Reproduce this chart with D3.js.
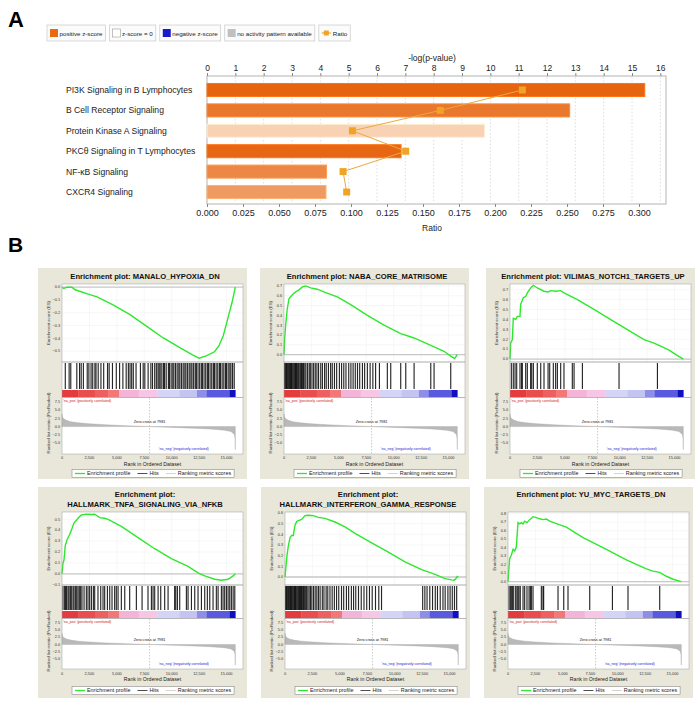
<!DOCTYPE html>
<html><head><meta charset="utf-8">
<script src="https://cdn.jsdelivr.net/npm/d3@7"></script>
<style>body{margin:0;background:#fff}svg{display:block}</style>
</head><body>
<svg id="c" width="700" height="708"></svg>
<script>
// ---------------- Panel A data ----------------
const pathways = ["PI3K Signaling in B Lymphocytes","B Cell Receptor Signaling","Protein Kinase A Signaling","PKCθ Signaling in T Lymphocytes","NF-κB Signaling","CXCR4 Signaling"];
const negLogP = [15.45, 12.8, 9.8, 6.85, 4.22, 4.2];
const ratio = [0.219, 0.162, 0.101, 0.138, 0.0945, 0.097];
const zScore = [3.4, 2.9, 0.6, 3.35, 2.5, 2.0];
const pTicks = [0,1,2,3,4,5,6,7,8,9,10,11,12,13,14,15,16];
const ratioTicks = [0,0.025,0.05,0.075,0.1,0.125,0.15,0.175,0.2,0.225,0.25,0.275,0.3];
const legendLabels = ["positive z-score","z-score = 0","negative z-score","no activity pattern available","Ratio"];

// ---------------- Panel B data ----------------
const gseaTitles = [
  ["Enrichment plot: MANALO_HYPOXIA_DN"],
  ["Enrichment plot: NABA_CORE_MATRISOME"],
  ["Enrichment plot: VILIMAS_NOTCH1_TARGETS_UP"],
  ["Enrichment plot:","HALLMARK_TNFA_SIGNALING_VIA_NFKB"],
  ["Enrichment plot:","HALLMARK_INTERFERON_GAMMA_RESPONSE"],
  ["Enrichment plot: YU_MYC_TARGETS_DN"]
];
const esCurve1 = [[0,0],[150,-0.01],[450,0.0],[900,0.0],[1200,-0.02],[2600,-0.06],[3200,-0.075],[4700,-0.14],[6200,-0.215],[7700,-0.305],[9200,-0.395],[10700,-0.47],[11900,-0.53],[12500,-0.555],[13200,-0.535],[13900,-0.505],[14300,-0.46],[14700,-0.38],[15100,-0.25],[15500,-0.12],[15800,0.0]];
const esCurve2 = [[0,0],[60,0.16],[150,0.3],[300,0.47],[456,0.57],[608,0.59],[851,0.62],[1064,0.64],[1368,0.66],[1672,0.69],[1976,0.70],[2432,0.68],[3040,0.667],[3800,0.633],[4864,0.588],[6080,0.51],[7600,0.40],[9120,0.30],[10640,0.214],[11856,0.17],[13376,0.095],[14592,0.034],[15200,-0.015],[15550,-0.04],[15800,0.0]];
const esCurve3 = [[0,0],[60,0.16],[210,0.195],[300,0.41],[520,0.40],[670,0.43],[910,0.43],[970,0.55],[1220,0.62],[1430,0.63],[1580,0.667],[1880,0.717],[2130,0.744],[2490,0.717],[3100,0.684],[3470,0.677],[3710,0.69],[4160,0.684],[4620,0.69],[4920,0.667],[6140,0.60],[7660,0.50],[9180,0.397],[10700,0.296],[12220,0.195],[13130,0.16],[13740,0.13],[14500,0.09],[15200,0.04],[15800,0.0]];
const esCurve4 = [[0,0],[90,0.097],[180,0.126],[300,0.26],[490,0.32],[700,0.36],[850,0.40],[1090,0.465],[1460,0.51],[1760,0.54],[2220,0.547],[2680,0.544],[2980,0.547],[3440,0.515],[3890,0.51],[4200,0.50],[5410,0.435],[6930,0.332],[8450,0.23],[9970,0.14],[11490,0.068],[12400,0.009],[13010,-0.02],[13920,-0.05],[14530,-0.059],[15140,-0.05],[15600,-0.02],[15800,0.0]];
const esCurve5 = [[0,0],[90,0.1],[180,0.2],[300,0.29],[460,0.37],[610,0.39],[760,0.39],[910,0.487],[1060,0.52],[1220,0.53],[1520,0.54],[1820,0.576],[2130,0.58],[2580,0.576],[3040,0.56],[3650,0.55],[4560,0.516],[5470,0.47],[6380,0.41],[7900,0.32],[9420,0.233],[10940,0.143],[12460,0.069],[13680,0.024],[14590,-0.015],[15200,-0.027],[15400,-0.03],[15550,-0.02],[15700,0.005],[15800,0.0]];
const esCurve6 = [[0,0],[60,0.116],[150,0.27],[300,0.31],[460,0.38],[610,0.36],[760,0.41],[910,0.695],[1060,0.68],[1220,0.695],[1370,0.68],[1520,0.712],[1730,0.695],[1980,0.73],[2280,0.765],[2580,0.754],[2890,0.74],[3190,0.73],[3500,0.737],[3800,0.712],[4410,0.684],[5320,0.642],[6840,0.519],[8970,0.379],[10790,0.256],[12620,0.151],[13220,0.123],[13830,0.109],[14440,0.063],[15050,0.028],[15800,0.0]];
const hits1 = [300,650,800,1350,1600,1750,1950,2300,2450,2650,2800,3000,3100,3300,3550,3800,4150,4300,4600,4950,5250,5550,5850,6050,6200,6350,6500,6750,7150,7400,7550,7850,8100,8250,8450,8600,8750,8850,8950,9100,9250,9350,9500,9700,9800,9950,10100,10200,10350,10500,10650,10750,10900,11050,11200,11300,11450,11600,11750,11850,12000,12150,12250,12400,12550,12700,12800,12950,13100,13250,13350,13500,13650,13800,13900,14050,14200,14350,14450,14600,14750,14900,15000,15150,15300,15400,15550,15700];
const hits2 = [60,150,230,300,380,450,520,600,680,740,820,900,980,1050,1130,1200,1280,1350,1450,1530,1600,1700,1780,1900,2000,2150,2300,2400,2550,2700,2850,3000,3150,3350,3500,3700,3850,4050,4250,4400,4600,4800,5050,5250,5450,5650,5900,6100,6300,6500,6700,6900,7150,7350,7600,7850,8100,8350,8700,9420,9730,10640,11100,11860,13380,13680,15200];
const hits3 = [120,300,460,610,910,1060,1120,1430,1580,1880,1980,2130,2490,2800,3100,3470,3620,3950,4160,4320,4620,4920,5680,5840,6600,9940,13440];
const hits4 = [90,240,330,420,550,640,760,850,1000,1090,1220,1340,1460,1580,1700,1820,2010,2220,2370,2520,2680,2860,2980,3280,3530,3740,3890,4140,4350,4560,4800,4950,5110,5410,5720,6170,6780,7300,7840,8150,8300,8450,8760,9000,9360,9670,10270,10370,10520,10730,11340,11490,11800,12100,12400,12710,13010,13250,13470,13770,14070,14230,14530,14680,14830,14990,15140,15290,15440,15600,15750];
const hits5 = [50,130,210,290,350,430,500,580,650,720,800,870,950,1020,1100,1180,1250,1330,1420,1500,1580,1680,1760,1850,1950,2080,2200,2330,2450,2600,2750,2900,3050,3200,3400,3550,3750,3900,4100,4300,4500,4700,4900,5150,5350,5600,5800,6050,6250,6450,6700,6950,7200,7450,7700,7950,8250,8550,8800,12550,12750,12950,13200,13450,13700,13900,14150,14400,14600,14850,15050,15250,15450,15650];
const hits6 = [90,210,300,400,520,700,820,910,1000,1120,1370,1520,1730,1920,2040,2130,2280,3040,3190,3250,4560,5080,5470,7450,9520,10940,13830];
const esDomains = [[-0.585,0.025],[-0.075,0.72],[-0.03,0.757],[-0.103,0.567],[-0.075,0.61],[-0.04,0.82]];
const esTicks = [[0,-0.1,-0.2,-0.3,-0.4,-0.5],[0,0.1,0.2,0.3,0.4,0.5,0.6,0.7],[0,0.1,0.2,0.3,0.4,0.5,0.6,0.7],[-0.1,0,0.1,0.2,0.3,0.4,0.5],[0,0.1,0.2,0.3,0.4,0.5,0.6],[0,0.1,0.2,0.3,0.4,0.5,0.6,0.7,0.8]];
const rankTicks = [0,2500,5000,7500,10000,12500,15000];
const metricTicks = [7.5,5.0,2.5,0.0,-2.5,-5.0];
const metricCurve = [[0,3.8],[30,3.0],[150,2.4],[400,1.9],[800,1.5],[1500,1.15],[2500,0.85],[4000,0.55],[6000,0.25],[7981,0],[10000,-0.25],[12000,-0.5],[13500,-0.75],[14800,-1.1],[15400,-1.5],[15700,-2.3],[15780,-3.5],[15800,-7.0]];
const colorBands = [[0,1500,"#e43c3c"],[1500,3000,"#ea4d4d"],[3000,4200,"#ee6060"],[4200,5200,"#f27777"],[5200,7000,"#f4b4d8"],[7000,8700,"#f6c6e4"],[8700,10700,"#d4d4f6"],[10700,12300,"#c4c4f2"],[12300,13200,"#8e8ee8"],[13200,15300,"#5a5ade"],[15300,15800,"#1010c0"]];
const zeroCross = 7981;
const legendB = ["Enrichment profile","Hits","Ranking metric scores"];

// ---------------- drawing ----------------
const FONT = "'Liberation Sans', Arial, sans-serif";
const svg = d3.select("#c").attr("font-family", FONT);

// ===== Panel A =====
svg.append("text").attr("x",8).attr("y",27).attr("font-size",22).attr("font-weight","bold").text("A");

(function(){
  let lx = 47;
  const sw = ["#e8690f","#ffffff","#1a1acc","#c0c0c0",null];
  legendLabels.forEach((lab,i)=>{
    const g = svg.append("g");
    const box = g.append("rect").attr("y",25).attr("height",16).attr("fill","#fbfbfb").attr("stroke","#cfcfcf").attr("stroke-width",0.8);
    let tx;
    if (sw[i]) {
      g.append("rect").attr("x",lx+3).attr("y",29).attr("width",8).attr("height",8).attr("fill",sw[i]).attr("stroke", i===1?"#999":"none").attr("stroke-width",0.6);
      tx = lx+12.5;
    } else {
      g.append("line").attr("x1",lx+3).attr("x2",lx+12).attr("y1",33).attr("y2",33).attr("stroke","#f0a424").attr("stroke-width",1.2);
      g.append("rect").attr("x",lx+5).attr("y",30.5).attr("width",5).attr("height",5).attr("fill","#f0a424");
      tx = lx+14;
    }
    const t = g.append("text").attr("x",tx).attr("y",35.8).attr("font-size",6.2).attr("fill","#222").text(lab);
    const w = t.node().getComputedTextLength();
    const bw = tx - lx + w + 3;
    box.attr("x",lx).attr("width",bw);
    lx += bw + 4;
  });
})();

const xP = d3.scaleLinear().domain([0,16.2]).range([207,666]);
const xR = d3.scaleLinear().domain([0,0.31875]).range([207,666]);
const yB = d3.scaleBand().domain(pathways).range([79.8,202.2]).paddingInner(0.36).paddingOuter(0.18);
const zColor = d3.scaleLinear().domain([0,3.5]).range(["#fde8d8","#e5600a"]);

svg.append("rect").attr("x",207).attr("y",76).attr("width",459).attr("height",128).attr("fill","#fff").attr("stroke","#b4b4b4").attr("stroke-width",1);
svg.append("g").selectAll("line").data(pTicks.slice(1)).join("line")
  .attr("x1",d=>xP(d)).attr("x2",d=>xP(d)).attr("y1",77).attr("y2",203)
  .attr("stroke","#d4d4d4").attr("stroke-dasharray","1.5,2").attr("stroke-width",0.8);

const axT = svg.append("g").attr("transform","translate(0,76)").call(d3.axisTop(xP).tickValues(pTicks).tickSize(3).tickPadding(2).tickFormat(d3.format("d")));
axT.select(".domain").remove();
axT.selectAll("line").attr("stroke","#888");
axT.selectAll("text").attr("font-size",8.5).attr("font-family",FONT).attr("fill","#222");
svg.append("text").attr("x",432).attr("y",61).attr("text-anchor","middle").attr("font-size",8.5).attr("fill","#222").text("-log(p-value)");

const axB = svg.append("g").attr("transform","translate(0,204)").call(d3.axisBottom(xR).tickValues(ratioTicks).tickSize(3).tickPadding(3).tickFormat(d3.format(".3f")));
axB.select(".domain").remove();
axB.selectAll("line").attr("stroke","#888");
axB.selectAll("text").attr("font-size",9).attr("font-family",FONT).attr("fill","#222");
svg.append("text").attr("x",432).attr("y",231).attr("text-anchor","middle").attr("font-size",8.5).attr("fill","#222").text("Ratio");

svg.append("g").selectAll("rect").data(pathways).join("rect")
  .attr("x",xP(0)).attr("y",d=>yB(d)).attr("height",yB.bandwidth())
  .attr("width",(d,i)=>xP(negLogP[i])-xP(0))
  .attr("fill",(d,i)=>zColor(zScore[i]))
  .attr("stroke",(d,i)=>d3.color(zColor(zScore[i])).brighter(0.4)).attr("stroke-width",1);

svg.append("g").selectAll("text").data(pathways).join("text")
  .attr("x",66).attr("y",d=>yB(d)+yB.bandwidth()/2+3).attr("font-size",8.6).attr("fill","#222").text(d=>d);

const rl = d3.line().x(d=>xR(d[0])).y(d=>yB(d[1])+yB.bandwidth()/2);
const rdata = pathways.map((p,i)=>[ratio[i],p]);
svg.append("path").attr("d",rl(rdata)).attr("fill","none").attr("stroke","#e8aa40").attr("stroke-width",1);
svg.append("g").selectAll("rect").data(rdata).join("rect")
  .attr("x",d=>xR(d[0])-3.5).attr("y",d=>yB(d[1])+yB.bandwidth()/2-3.5).attr("width",7).attr("height",7).attr("fill","#f0a424");

// ===== Panel B =====
svg.append("text").attr("x",8).attr("y",252).attr("font-size",21).attr("font-weight","bold").text("B");

const curves = [esCurve1,esCurve2,esCurve3,esCurve4,esCurve5,esCurve6];
const hitsAll = [hits1,hits2,hits3,hits4,hits5,hits6];
const boxes = [[38,268],[260,268],[486,268],[38,487],[261,487],[484,487]];
const layouts = [
  {h:211, t:[11], esTop:16, esBot:94, hitsBot:121, cbTop:122, cbBot:129, rankTop:130, rankBot:186, tickY:191, titleY:197.5, legTop:201.5},
  {h:211, t:[9.5,19.5], esTop:25, esBot:98, hitsBot:123, cbTop:124, cbBot:131, rankTop:132, rankBot:182, tickY:187.5, titleY:193.5, legTop:199.5}
];
const RMAX = 16500;

curves.forEach((curve,k)=>{
  const [bx,by] = boxes[k];
  const L = layouts[k<3?0:1];
  const g = svg.append("g").attr("transform",`translate(${bx},${by})`);
  const PL = 24, PR = 205;
  g.append("rect").attr("width",209).attr("height",L.h).attr("fill","#e9e7da");
  gseaTitles[k].forEach((line,j)=>{
    g.append("text").attr("x",107).attr("y",L.t[j]).attr("text-anchor","middle")
      .attr("font-size",7.6).attr("font-weight","bold").attr("fill","#111").text(line);
  });
  const x = d3.scaleLinear().domain([0,RMAX]).range([PL,PR]);
  const yE = d3.scaleLinear().domain(esDomains[k]).range([L.esBot,L.esTop]);
  const yM = d3.scaleLinear().domain([-8.35,8.7]).range([L.rankBot,L.rankTop]);

  g.append("rect").attr("x",PL).attr("y",L.esTop).attr("width",PR-PL).attr("height",L.rankBot-L.esTop).attr("fill","#fff");
  g.append("g").selectAll("line").data(rankTicks.slice(1)).join("line")
    .attr("x1",d=>x(d)).attr("x2",d=>x(d)).attr("y1",L.esTop).attr("y2",L.esBot)
    .attr("stroke","#efefef").attr("stroke-width",0.5);
  g.append("g").selectAll("line").data(esTicks[k]).join("line")
    .attr("x1",PL).attr("x2",PR).attr("y1",d=>yE(d)).attr("y2",d=>yE(d))
    .attr("stroke","#efefef").attr("stroke-width",0.5);
  g.append("line").attr("x1",PL).attr("x2",PR).attr("y1",yE(0)).attr("y2",yE(0)).attr("stroke","#c8c8c8").attr("stroke-width",1.3);
  g.append("path").attr("d",d3.line().x(d=>x(d[0])).y(d=>yE(d[1]))(curve))
    .attr("fill","none").attr("stroke","#2ee82e").attr("stroke-width",1.4);
  g.append("g").selectAll("line").data(hitsAll[k]).join("line")
    .attr("x1",d=>x(d)).attr("x2",d=>x(d)).attr("y1",L.esBot+1).attr("y2",L.hitsBot)
    .attr("stroke","#000").attr("stroke-width",1.15).attr("stroke-opacity",0.85);
  g.append("g").selectAll("rect").data(colorBands).join("rect")
    .attr("x",d=>x(d[0])).attr("width",d=>x(d[1])-x(d[0])+0.3)
    .attr("y",L.cbTop).attr("height",L.cbBot-L.cbTop).attr("fill",d=>d[2]);
  g.append("path").attr("d",d3.area().x(d=>x(d[0])).y0(yM(0)).y1(d=>yM(d[1]))(metricCurve))
    .attr("fill","#b9b9b9").attr("stroke","#aaa").attr("stroke-width",0.4);
  g.append("line").attr("x1",x(zeroCross)).attr("x2",x(zeroCross)).attr("y1",L.rankTop).attr("y2",L.rankBot)
    .attr("stroke","#999").attr("stroke-width",0.5).attr("stroke-dasharray","1.5,1.5");
  g.append("text").attr("x",x(zeroCross)).attr("y",yM(1.1)).attr("text-anchor","middle").attr("font-size",3.8).attr("fill","#111").text("Zero cross at "+zeroCross);
  g.append("text").attr("x",PL+1).attr("y",L.rankTop+3.5).attr("font-size",3.6).attr("fill","#d02020").text("'na_pos' (positively correlated)");
  g.append("text").attr("x",x(11100)).attr("y",L.rankBot-4).attr("text-anchor","middle").attr("font-size",3.6).attr("fill","#2020d0").text("'na_neg' (negatively correlated)");
  [[L.esTop,L.esBot],[L.esBot,L.cbBot+0.5],[L.cbBot+0.5,L.rankBot]].forEach(([a,b])=>{
    g.append("rect").attr("x",PL).attr("y",a).attr("width",PR-PL).attr("height",b-a).attr("fill","none").attr("stroke","#a0a0a0").attr("stroke-width",0.5);
  });
  g.append("g").selectAll("text").data(esTicks[k]).join("text")
    .attr("x",PL-2).attr("y",d=>yE(d)+1.3).attr("text-anchor","end").attr("font-size",3.8).attr("fill","#333").text(d3.format(".1f"));
  g.append("g").selectAll("text").data(metricTicks).join("text")
    .attr("x",PL-2).attr("y",d=>yM(d)+1.3).attr("text-anchor","end").attr("font-size",3.8).attr("fill","#333").text(d3.format(".1f"));
  g.append("g").selectAll("text").data(rankTicks).join("text")
    .attr("x",d=>x(d)).attr("y",L.tickY).attr("text-anchor","middle").attr("font-size",3.9).attr("fill","#333").text(d3.format(","));
  g.append("text").attr("x",(PL+PR)/2).attr("y",L.titleY).attr("text-anchor","middle").attr("font-size",5.2).attr("fill","#222").text("Rank in Ordered Dataset");
  g.append("text").attr("transform",`translate(12,${(L.esTop+L.esBot)/2}) rotate(-90)`).attr("text-anchor","middle").attr("font-size",4.4).attr("fill","#333").text("Enrichment score (ES)");
  g.append("text").attr("transform",`translate(12,${(L.rankTop+L.rankBot)/2 - 3}) rotate(-90)`).attr("text-anchor","middle").attr("font-size",4.4).attr("fill","#333").text("Ranked list metric (PreRanked)");
  const lg = g.append("g");
  const lbox = lg.append("rect").attr("y",L.legTop).attr("height",8).attr("fill","#fff").attr("stroke","#777").attr("stroke-width",0.5);
  let lx = 37; const lstart = 34;
  const cols = ["#2ee82e","#222","#c8c8c8"];
  legendB.forEach((lab,i)=>{
    lg.append("line").attr("x1",lx).attr("x2",lx+10).attr("y1",L.legTop+4).attr("y2",L.legTop+4).attr("stroke",cols[i]).attr("stroke-width",i===0?1.3:0.8);
    const t = lg.append("text").attr("x",lx+12).attr("y",L.legTop+5.9).attr("font-size",5.4).attr("fill","#222").text(lab);
    lx += 12 + t.node().getComputedTextLength() + 7;
  });
  lbox.attr("x",lstart).attr("width",lx-lstart-4);
});
</script>
</body></html>
